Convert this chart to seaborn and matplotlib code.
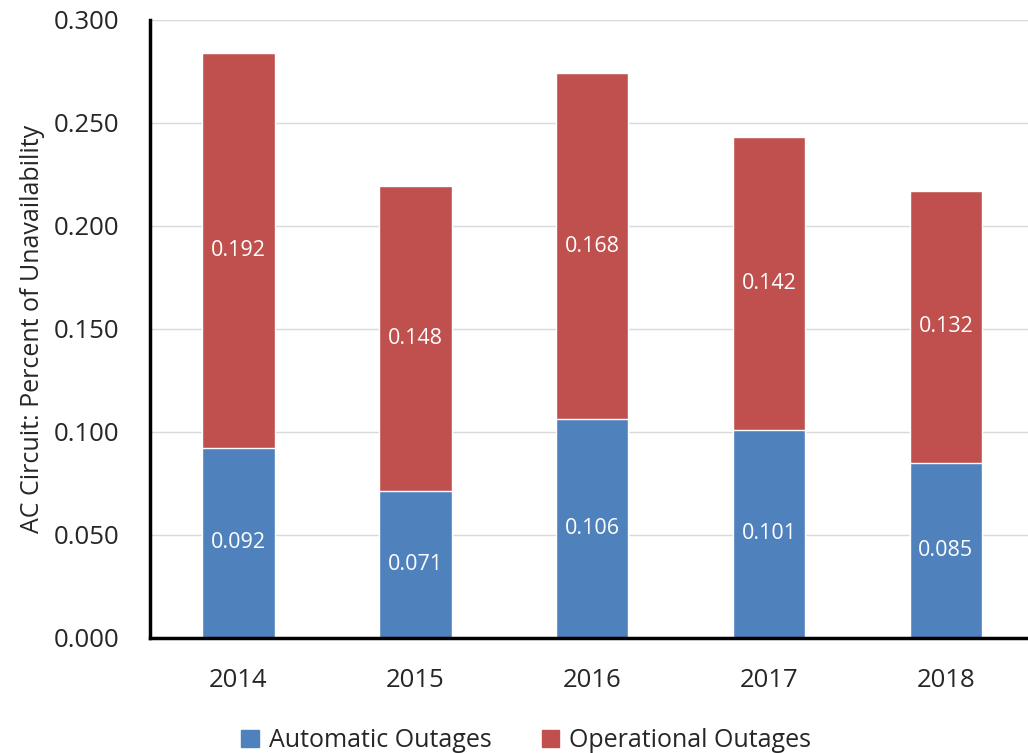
import pandas as pd
import matplotlib
matplotlib.use("Agg")
import matplotlib.pyplot as plt
import seaborn as sns
from matplotlib.patches import Patch

years = ["2014", "2015", "2016", "2017", "2018"]
automatic = [0.092, 0.071, 0.106, 0.101, 0.085]
operational = [0.192, 0.148, 0.168, 0.142, 0.132]

blue = "#4F81BD"
red = "#C0504D"

sns.set_theme(style="white")
plt.rcParams["font.family"] = ["Open Sans", "DejaVu Sans"]

df = pd.DataFrame({"year": years, "automatic": automatic, "operational": operational})
df["total"] = df["automatic"] + df["operational"]

fig = plt.figure(figsize=(10.28, 7.53), dpi=100)
ax = fig.add_axes([0.146, 0.153, 0.86, 0.821])

# stacked: draw totals in red first, automatic in blue over them
sns.barplot(data=df, x="year", y="total", color=red, saturation=1, width=0.41, ax=ax)
sns.barplot(data=df, x="year", y="automatic", color=blue, saturation=1, width=0.41, ax=ax)

for i, (a, o) in enumerate(zip(automatic, operational)):
    ax.text(i, a / 2, f"{a:.3f}", ha="center", va="center", color="white", fontsize=15.5)
    ax.text(i, a + o / 2, f"{o:.3f}", ha="center", va="center", color="white", fontsize=15.5)

ax.set_ylim(0, 0.300)
ax.set_xlim(-0.5, 4.5)
ax.set_yticks([0.0, 0.05, 0.10, 0.15, 0.20, 0.25, 0.30])
ax.set_yticklabels([f"{v:.3f}" for v in ax.get_yticks()], fontsize=18.5)
ax.tick_params(axis="x", labelsize=18.5, pad=22, length=0)
ax.tick_params(axis="y", pad=22, length=0)
ax.yaxis.grid(True, color="#D9D9D9", linewidth=1)
ax.set_axisbelow(True)
ax.set_xlabel("")
ax.set_ylabel("AC Circuit: Percent of Unavailability", fontsize=18, labelpad=6)

sns.despine(ax=ax)
for side in ["left", "bottom"]:
    ax.spines[side].set_color("black")
    ax.spines[side].set_linewidth(2.5)

handles = [Patch(color=blue, label="Automatic Outages"), Patch(color=red, label="Operational Outages")]
fig.legend(handles=handles, loc="lower center", bbox_to_anchor=(0.512, -0.03), ncol=2,
           frameon=False, fontsize=18, handlelength=0.7, handleheight=0.7,
           handletextpad=0.4, columnspacing=2.0)

fig.savefig("out.png", dpi=100)
